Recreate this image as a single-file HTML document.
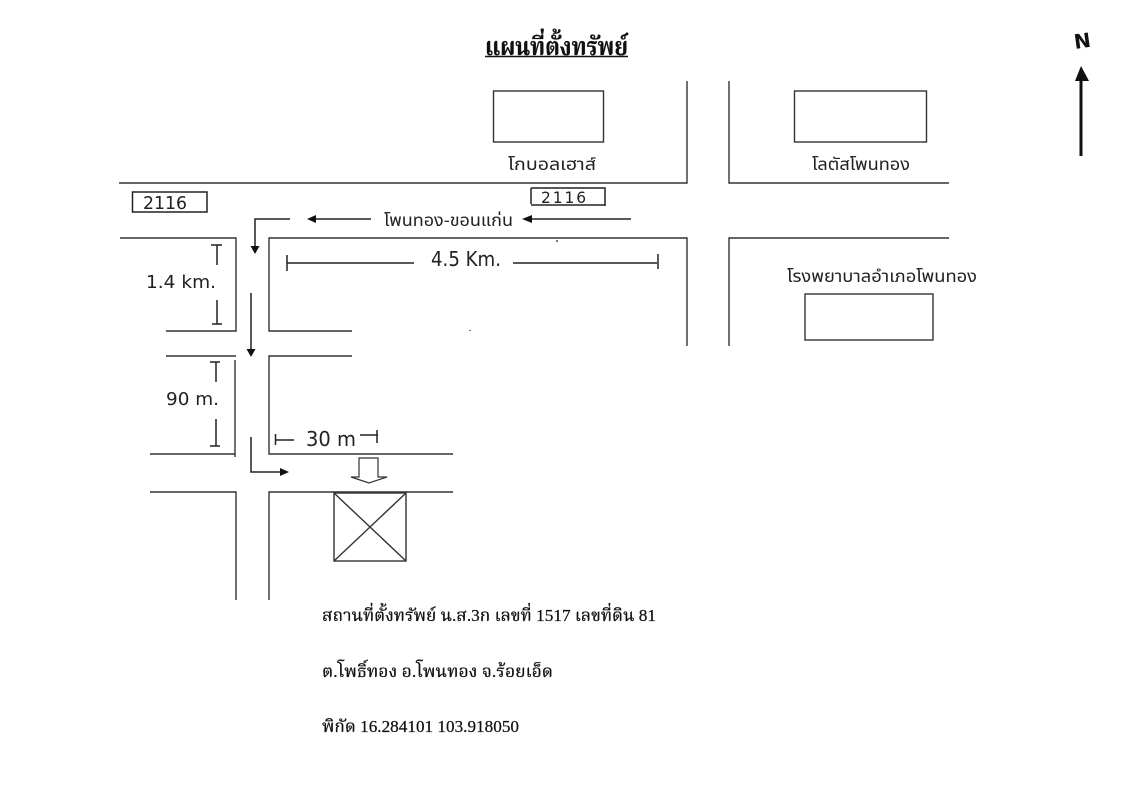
<!DOCTYPE html>
<html lang="th">
<head>
<meta charset="utf-8">
<style>
html,body{margin:0;padding:0;background:#fff;width:1124px;height:800px;overflow:hidden}
svg{display:block}
.l{stroke:#333;stroke-width:1.4;fill:none}
.h{stroke:#222;stroke-width:1.5;fill:none}
.sans{font-family:"Liberation Sans","Noto Sans Thai","Noto Sans CJK SC",sans-serif;fill:#222;font-size:17px}
.serif{font-family:"Liberation Serif","Noto Serif Thai","Noto Serif CJK SC",serif;fill:#111;font-size:17px;stroke:#111;stroke-width:.25}
.hand{font-family:"DejaVu Sans","Liberation Sans",sans-serif;fill:#222;font-size:18px}
</style>
</head>
<body>
<svg width="1124" height="800" viewBox="0 0 1124 800" xmlns="http://www.w3.org/2000/svg">
<text class="serif" x="485" y="55" textLength="143" lengthAdjust="spacingAndGlyphs" style="font-size:25px;font-weight:bold;stroke-width:.3">แผนที่ตั้งทรัพย์</text>
<line x1="485" y1="56.500" x2="628" y2="56.500" stroke="#111" stroke-width="1.500"/>

<g class="l">
<path d="M119 183H687V81M729 81V183H949"/>
<path d="M120 238H236V331H166"/>
<path d="M352 331H269V238H687V346"/>
<path d="M729 346V238H949"/>
<path d="M166 356H236M352 356H269V454H453"/>
<path d="M235 360V457M150 454H235"/>
<path d="M150 492H236V600M453 492H269V600"/>
<rect x="493.500" y="91" width="110" height="51"/>
<rect x="794.500" y="91" width="132" height="51"/>
<rect x="805" y="294" width="128" height="46"/>
<rect x="334" y="493" width="72" height="68"/>
<path d="M334 493L406 561M406 493L334 561"/>
<path d="M359 458H378V477H387L369 483L351 477H359Z" stroke-width="1.200"/>
</g>

<text class="sans" x="508" y="170" textLength="88" lengthAdjust="spacingAndGlyphs">โกบอลเฮาส์</text>
<text class="sans" x="812" y="170" textLength="98" lengthAdjust="spacingAndGlyphs">โลตัสโพนทอง</text>
<text class="sans" x="787" y="282" textLength="190" lengthAdjust="spacingAndGlyphs">โรงพยาบาลอำเภอโพนทอง</text>
<text class="sans" x="384" y="226" textLength="129" lengthAdjust="spacingAndGlyphs">โพนทอง-ขอนแก่น</text>

<g class="h">
<path d="M132.500 192H207V212H132.500Z"/>
<path d="M531 188H605V206M531 188V204M531 205H605"/>
<path d="M631 219H530M371 219H312M290 219H255V247"/>
<path d="M251 293V350"/>
<path d="M251 437V472H283"/>
<path d="M287 263H414M513 263H657M287 255V271M658 254V269"/>
<path d="M211 245H222M217 245V265"/>
<path d="M217 300V324M212 324H222"/>
<path d="M210 362H220M216 362V382"/>
<path d="M216 419V446M210 446H220"/>
<path d="M275.500 434V445M275 440H294M360 435H378M377 430V443"/>
</g>

<g fill="#111">
<path d="M307 219L316 215V223Z"/>
<path d="M522 219L532 215V223Z"/>
<path d="M250.500 246H259.500L255 254Z"/>
<path d="M246.500 349H255.500L251 357Z"/>
<path d="M289 472L280 468V476Z"/>
<path d="M1081 66L1075 81H1089Z"/>
</g>
<path d="M1081 80V156" stroke="#111" stroke-width="3"/>
<text x="1074" y="48" transform="rotate(-8 1082 41)" style="font-family:'DejaVu Sans',sans-serif;font-size:20px;font-weight:bold" fill="#111">N</text>

<text class="hand" x="143" y="209" textLength="44" lengthAdjust="spacingAndGlyphs">2116</text>
<text class="hand" x="541" y="203" textLength="47" lengthAdjust="spacingAndGlyphs" style="font-size:16px;letter-spacing:2px">2116</text>
<text class="hand" x="146" y="288" textLength="70" lengthAdjust="spacingAndGlyphs">1.4 km.</text>
<text class="hand" x="431" y="266" textLength="70" lengthAdjust="spacingAndGlyphs" style="font-size:20px">4.5 Km.</text>
<text class="hand" x="166" y="405" textLength="53" lengthAdjust="spacingAndGlyphs">90 m.</text>
<text class="hand" x="306" y="446" textLength="50" lengthAdjust="spacingAndGlyphs" style="font-size:20px">30 m</text>

<text class="serif" x="322" y="621" textLength="334" lengthAdjust="spacingAndGlyphs">สถานที่ตั้งทรัพย์ น.ส.3ก เลขที่ 1517 เลขที่ดิน 81</text>
<text class="serif" x="322" y="677" textLength="231" lengthAdjust="spacingAndGlyphs">ต.โพธิ์ทอง อ.โพนทอง จ.ร้อยเอ็ด</text>
<text class="serif" x="322" y="732" textLength="197" lengthAdjust="spacingAndGlyphs">พิกัด 16.284101 103.918050</text>

<g fill="#777">
<rect x="556" y="240" width="2" height="2"/>
<rect x="469" y="330" width="2" height="1"/>
</g>
</svg>
</body>
</html>
